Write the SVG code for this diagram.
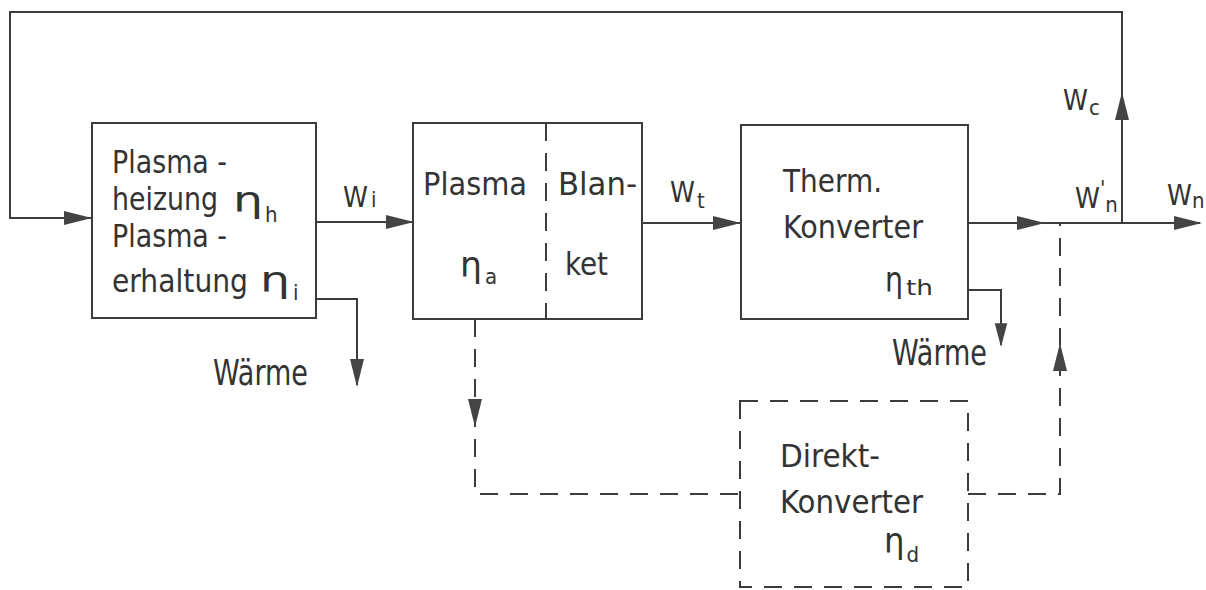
<svg xmlns="http://www.w3.org/2000/svg" xmlns:xlink="http://www.w3.org/1999/xlink" width="1206" height="590" viewBox="0 0 1206 590">
<style>
  .box { fill: none; stroke: #3c3c3c; stroke-width: 2; }
  .dbox { fill: none; stroke: #3c3c3c; stroke-width: 2; stroke-dasharray: 18 12; }
  .ln { fill: none; stroke: #3c3c3c; stroke-width: 2; }
  .dl { fill: none; stroke: #3c3c3c; stroke-width: 2; stroke-dasharray: 18 12; }
  text { font-family: "Liberation Sans Narrow", "DejaVu Sans Condensed", "Liberation Sans", sans-serif; fill: #333; }
  .t { font-size: 32px; }
  .eta { font-size: 36px; }
  .sub { font-size: 22px; }
  .w { font-size: 28px; }
  .wm { font-size: 36px; }
</style>
<defs>
  <path id="ah" d="M0,0 L-28,-7 L-28,7 Z" fill="#444"/>
</defs>
<rect width="1206" height="590" fill="#fff"/>

<g id="connectors">
  <path class="ln" d="M92,218 H10 V12 H1122 V223"/>
  <path class="ln" d="M316,222 H413"/>
  <path class="ln" d="M642,223 H741"/>
  <path class="ln" d="M968,223 H1200"/>
  <path class="ln" d="M316,299 H357 V385"/>
  <path class="ln" d="M968,290 H1001 V345"/>
  <path class="dl" d="M475,319 V494 H740"/>
  <path class="dl" d="M968,494 H1060 V223"/>
  <use xlink:href="#ah" transform="translate(92,218)"/>
  <use xlink:href="#ah" transform="translate(414,222)"/>
  <use xlink:href="#ah" transform="translate(741,223)"/>
  <use xlink:href="#ah" transform="translate(1045,223)"/>
  <use xlink:href="#ah" transform="translate(1202,223)"/>
  <use xlink:href="#ah" transform="translate(1122,92) rotate(-90)"/>
  <use xlink:href="#ah" transform="translate(357,387) rotate(90)"/>
  <use xlink:href="#ah" transform="translate(1001,347) rotate(90) scale(0.85,0.9)"/>
  <use xlink:href="#ah" transform="translate(475,427) rotate(90)"/>
  <use xlink:href="#ah" transform="translate(1060,343) rotate(-90)"/>
</g>

<g id="heating">
  <rect class="box" x="92" y="123" width="224" height="195"/>
  <text class="t" x="112" y="173" textLength="115" lengthAdjust="spacingAndGlyphs">Plasma -</text>
  <text class="t" x="112" y="210" textLength="106" lengthAdjust="spacingAndGlyphs">heizung</text>
  <text class="eta" x="233" y="212" textLength="30" lengthAdjust="spacingAndGlyphs">η</text>
  <text class="sub" x="265" y="222">h</text>
  <text class="t" x="112" y="247" textLength="115" lengthAdjust="spacingAndGlyphs">Plasma -</text>
  <text class="t" x="112" y="292" textLength="136" lengthAdjust="spacingAndGlyphs">erhaltung</text>
  <text class="eta" x="260" y="292" textLength="30" lengthAdjust="spacingAndGlyphs">η</text>
  <text class="sub" x="293" y="300">i</text>
</g>

<g id="plasma-blanket">
  <rect class="box" x="413" y="123" width="229" height="196"/>
  <path class="dl" d="M546,123 V319"/>
  <text class="t" x="423" y="195" textLength="104" lengthAdjust="spacingAndGlyphs">Plasma</text>
  <text class="t" x="558" y="195" textLength="79" lengthAdjust="spacingAndGlyphs">Blan-</text>
  <text class="eta" x="460" y="277" textLength="22" lengthAdjust="spacingAndGlyphs">η</text>
  <text class="sub" x="485" y="284">a</text>
  <text class="t" x="565" y="275" textLength="43" lengthAdjust="spacingAndGlyphs">ket</text>
</g>

<g id="therm-konverter">
  <rect class="box" x="741" y="125" width="227" height="194"/>
  <text class="t" x="783" y="192" textLength="99" lengthAdjust="spacingAndGlyphs">Therm.</text>
  <text class="t" x="783" y="238" textLength="140" lengthAdjust="spacingAndGlyphs">Konverter</text>
  <text class="eta" x="885" y="292" textLength="18" lengthAdjust="spacingAndGlyphs">η</text>
  <text class="sub" x="906" y="295" textLength="27" lengthAdjust="spacingAndGlyphs">th</text>
</g>

<g id="direkt-konverter">
  <rect class="dbox" x="740" y="401" width="228" height="186"/>
  <text class="t" x="780" y="467" textLength="100" lengthAdjust="spacingAndGlyphs">Direkt-</text>
  <text class="t" x="780" y="513" textLength="143" lengthAdjust="spacingAndGlyphs">Konverter</text>
  <text class="eta" x="884" y="553">η<tspan class="sub" dx="2" dy="9">d</tspan></text>
</g>

<g id="labels">
  <text class="w" x="343" y="207">W<tspan class="sub" dx="3">i</tspan></text>
  <text class="w" x="670" y="202">W<tspan class="sub" dx="2" dy="6">t</tspan></text>
  <text class="w" x="1063" y="110">W<tspan class="sub" dx="1" dy="5">c</tspan></text>
  <text class="w" x="1075" y="208">W<tspan class="sub" dy="-12">'</tspan><tspan class="sub" dy="16">n</tspan></text>
  <text class="w" x="1167" y="205">W<tspan class="sub" dx="0" dy="3">n</tspan></text>
  <text class="wm" x="213" y="385" textLength="95" lengthAdjust="spacingAndGlyphs">Wärme</text>
  <text class="wm" x="892" y="365" textLength="95" lengthAdjust="spacingAndGlyphs">Wärme</text>
</g>
</svg>
